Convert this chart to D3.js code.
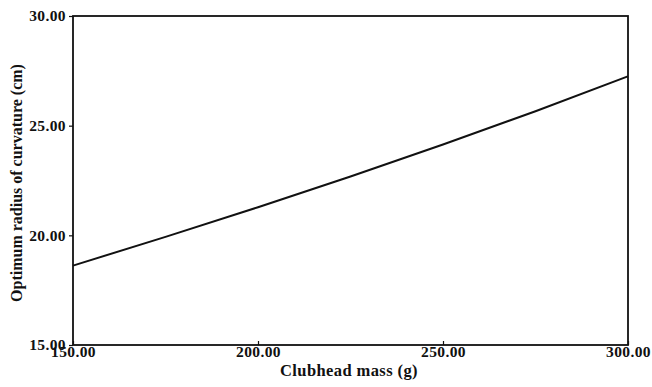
<!DOCTYPE html>
<html lang="en">
<head>
    <meta charset="UTF-8">
    <title>Optimum radius of curvature vs clubhead mass</title>
    <script src="https://cdn.jsdelivr.net/npm/d3@7"></script>
    <style>
        body { margin: 0; background: #fff; }
        text { font-family: "Liberation Serif", "Times New Roman", serif; font-weight: bold; fill: #111; }
    </style>
</head>
<body>
    <svg id="chart" width="652" height="387"></svg>

    <script>
        // data
        const massValues = [150, 175, 200, 225, 250, 275, 300];
        const radiusValues = [18.62, 19.93, 21.28, 22.68, 24.14, 25.66, 27.25];
        const xTicks = [150, 200, 250, 300];
        const yTicks = [15, 20, 25, 30];

        const svg = d3.select('#chart');
        const plotLeft = 73, plotRight = 628, plotTop = 16, plotBottom = 345;

        const x = d3.scaleLinear().domain([150, 300]).range([plotLeft, plotRight]);
        const y = d3.scaleLinear().domain([15, 30]).range([plotBottom, plotTop]);

        // frame
        svg.append('rect')
            .attr('x', plotLeft).attr('y', plotTop)
            .attr('width', plotRight - plotLeft).attr('height', plotBottom - plotTop)
            .attr('fill', 'none').attr('stroke', '#111').attr('stroke-width', 1.8);

        // y axis
        const yAxis = svg.append('g')
            .attr('transform', `translate(${plotLeft},0)`)
            .call(d3.axisLeft(y).tickValues(yTicks).tickSize(4).tickPadding(3).tickFormat(d3.format('.2f')));
        yAxis.select('.domain').remove();
        yAxis.selectAll('line').attr('stroke', '#111').attr('stroke-width', 1.2);
        yAxis.selectAll('text').attr('font-size', 15.5).attr('letter-spacing', 0.4).attr('fill', '#111');

        // x axis
        const xAxis = svg.append('g')
            .attr('transform', `translate(0,${plotBottom})`)
            .call(d3.axisBottom(x).tickValues(xTicks).tickSize(-4).tickPadding(3).tickFormat(d3.format('.2f')));
        xAxis.select('.domain').remove();
        xAxis.selectAll('line').attr('stroke', '#111').attr('stroke-width', 1.2);
        xAxis.selectAll('text').attr('font-size', 15.5).attr('letter-spacing', 0.4).attr('fill', '#111').attr('y', 1);

        // curve
        const line = d3.line()
            .x((d, i) => x(massValues[i]))
            .y(d => y(d))
            .curve(d3.curveMonotoneX);

        svg.append('path')
            .datum(radiusValues)
            .attr('d', line)
            .attr('fill', 'none')
            .attr('stroke', '#111')
            .attr('stroke-width', 2);

        // axis titles
        svg.append('text')
            .attr('x', 349)
            .attr('y', 376)
            .attr('text-anchor', 'middle')
            .attr('font-size', 16.5)
            .attr('letter-spacing', 0.4)
            .text('Clubhead mass (g)');

        svg.append('text')
            .attr('transform', 'translate(22,183) rotate(-90)')
            .attr('text-anchor', 'middle')
            .attr('font-size', 16)
            .text('Optimum radius of curvature (cm)');
    </script>
</body>
</html>
